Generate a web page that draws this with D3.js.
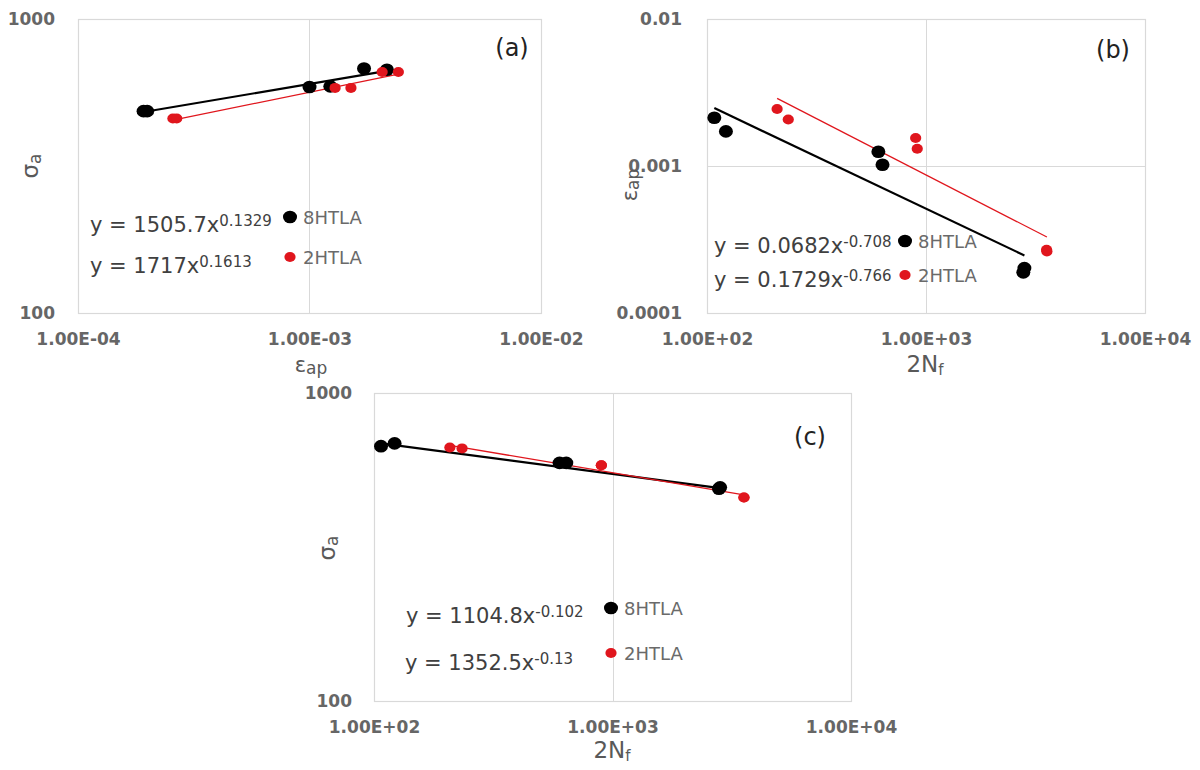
<!DOCTYPE html>
<html>
<head>
<meta charset="utf-8">
<script src="https://cdn.jsdelivr.net/npm/d3@7"></script>
<style>
  body { margin: 0; background: #fff; }
  svg { display: block; }
  text { font-family: "DejaVu Sans", "Liberation Sans", sans-serif; }
</style>
</head>
<body>
<svg id="chart" width="1200" height="770"></svg>
<script>
// ---- series -------------------------------------------------------------
const seriesNames  = ["8HTLA", "2HTLA"];
const seriesColors = ["#000000", "#e0161d"];

// (a) stress amplitude vs plastic strain amplitude
const epsA_8HTLA = [1.92e-4, 1.99e-4, 1.00e-3, 1.23e-3, 1.72e-3, 2.16e-3];
const sigA_8HTLA = [486, 486, 587, 590, 679, 672];
const epsA_2HTLA = [2.57e-4, 2.67e-4, 1.29e-3, 1.51e-3, 2.06e-3, 2.42e-3];
const sigA_2HTLA = [459, 459, 583, 583, 660, 660];
const fitA_coef  = [1505.7, 1717];
const fitA_exp   = [0.1329, 0.1613];

// (b) plastic strain amplitude vs reversals to failure
const NB_8HTLA   = [108, 122, 606, 633, 2814, 2782];
const epsB_8HTLA = [2.13e-3, 1.72e-3, 1.25e-3, 1.02e-3, 2.02e-4, 1.89e-4];
const NB_2HTLA   = [209, 235, 897, 912, 3553, 3565];
const epsB_2HTLA = [2.44e-3, 2.07e-3, 1.55e-3, 1.31e-3, 2.69e-4, 2.62e-4];
const fitB_coef  = [0.0682, 0.1729];
const fitB_exp   = [-0.708, -0.766];

// (c) stress amplitude vs reversals to failure
const NC_8HTLA   = [107, 122, 600, 640, 2795, 2826];
const sigC_8HTLA = [672, 686, 593, 593, 489, 494];
const NC_2HTLA   = [208, 234, 898, 898, 3558, 3558];
const sigC_2HTLA = [665, 661, 583, 583, 458, 458];
const fitC_coef  = [1104.8, 1352.5];
const fitC_exp   = [-0.102, -0.13];

// ---- axis ticks ---------------------------------------------------------
const strainTicks      = [1e-4, 1e-3, 1e-2];
const strainTickLabels = ["1.00E-04", "1.00E-03", "1.00E-02"];
const stressTicks      = [100, 1000];
const stressTickLabels = ["100", "1000"];
const revTicks         = [1e2, 1e3, 1e4];
const revTickLabels    = ["1.00E+02", "1.00E+03", "1.00E+04"];
const strainYTicks      = [1e-4, 1e-3, 1e-2];
const strainYTickLabels = ["0.0001", "0.001", "0.01"];

const svg = d3.select("#chart");
const GRID = "#d9d9d9";
const TICK_COLOR = "#666666";
const TITLE_COLOR = "#595959";

function drawPanel(p) {
  const g = svg.append("g");
  const x = d3.scaleLog().domain(p.xDomain).range([p.box.x0, p.box.x1]);
  const y = d3.scaleLog().domain(p.yDomain).range([p.box.y1, p.box.y0]);
  const h = p.box.y1 - p.box.y0, w = p.box.x1 - p.box.x0;

  // inner gridlines
  g.selectAll("line.vgrid").data(p.xGrid).join("line")
    .attr("x1", d => Math.round(x(d)) + 0.5).attr("x2", d => Math.round(x(d)) + 0.5)
    .attr("y1", p.box.y0).attr("y2", p.box.y1)
    .attr("stroke", GRID).attr("stroke-width", 1);
  g.selectAll("line.hgrid").data(p.yGrid).join("line")
    .attr("y1", d => Math.round(y(d)) + 0.5).attr("y2", d => Math.round(y(d)) + 0.5)
    .attr("x1", p.box.x0).attr("x2", p.box.x1)
    .attr("stroke", GRID).attr("stroke-width", 1);

  // plot frame
  g.append("rect")
    .attr("x", p.box.x0 + 0.5).attr("y", p.box.y0 + 0.5)
    .attr("width", w).attr("height", h)
    .attr("fill", "none").attr("stroke", GRID).attr("stroke-width", 1.2);

  // axes
  const ax = g.append("g").attr("transform", `translate(0,${p.box.y1})`)
    .call(d3.axisBottom(x).tickValues(p.xTicks)
      .tickFormat((d, i) => p.xTickLabels[i]).tickSize(0).tickPadding(20));
  const ay = g.append("g").attr("transform", `translate(${p.box.x0},0)`)
    .call(d3.axisLeft(y).tickValues(p.yTicks)
      .tickFormat((d, i) => p.yTickLabels[i]).tickSize(0).tickPadding(p.yPad));
  [ax, ay].forEach(a => {
    a.select(".domain").remove();
    a.selectAll("text")
      .attr("fill", TICK_COLOR).attr("font-size", 17).attr("font-weight", "bold")
      .style("font-family", "'DejaVu Sans', sans-serif");
  });

  // trend lines (power fits) over each series' data range
  const line = d3.line().x(d => x(d[0])).y(d => y(d[1]));
  p.series.forEach((s, i) => {
    const ext = d3.extent(s.xs);
    const pts = ext.map(v => [v, p.coef[i] * Math.pow(v, p.exp[i])]);
    g.append("path").attr("d", line(pts))
      .attr("fill", "none").attr("stroke", seriesColors[i])
      .attr("stroke-width", i === 0 ? 2.2 : 1.3);
  });

  // markers
  p.series.forEach((s, i) => {
    const rx = i === 0 ? 7 : 5.6, ry = i === 0 ? 6.3 : 5;
    g.selectAll(null).data(d3.zip(s.xs, s.ys)).join("ellipse")
      .attr("cx", d => x(d[0])).attr("cy", d => y(d[1]))
      .attr("rx", rx).attr("ry", ry)
      .attr("fill", seriesColors[i]);
  });

  // fit equations
  p.eqPos.forEach((pos, i) => {
    const t = g.append("text").attr("x", pos[0]).attr("y", pos[1])
      .attr("fill", "#404040").attr("font-size", 21);
    t.append("tspan").text(`y = ${p.coef[i]}x`);
    t.append("tspan").attr("font-size", 15).attr("dy", -6).text(String(p.exp[i]));
  });

  // legend
  p.legPos.forEach((pos, i) => {
    const rx = i === 0 ? 7 : 5.6, ry = i === 0 ? 6.3 : 5;
    g.append("ellipse").attr("cx", pos[0]).attr("cy", pos[1])
      .attr("rx", rx).attr("ry", ry).attr("fill", seriesColors[i]);
    g.append("text").attr("x", pos[0] + 13).attr("y", pos[1])
      .attr("dominant-baseline", "central")
      .attr("fill", "#6a6a6a").attr("font-size", 18)
      .text(seriesNames[i]);
  });

  // panel tag
  g.append("text").attr("x", p.tag[0]).attr("y", p.tag[1])
    .attr("text-anchor", "middle").attr("dominant-baseline", "central")
    .attr("fill", "#222").attr("font-size", 24).text(p.tag[2]);

  // axis titles
  const xt = g.append("text").attr("x", p.xTitlePos[0]).attr("y", p.xTitlePos[1])
    .attr("text-anchor", "middle").attr("fill", TITLE_COLOR);
  xt.append("tspan").attr("font-size", p.xTitle[2]).text(p.xTitle[0]);
  xt.append("tspan").attr("font-size", p.xTitle[3]).attr("dy", p.xTitle[4]).text(p.xTitle[1]);

  const yt = g.append("text")
    .attr("transform", `translate(${p.yTitlePos[0]},${p.yTitlePos[1]}) rotate(-90)`)
    .attr("text-anchor", "middle").attr("fill", TITLE_COLOR);
  yt.append("tspan").attr("font-size", p.yTitle[2]).text(p.yTitle[0]);
  yt.append("tspan").attr("font-size", p.yTitle[3]).attr("dy", p.yTitle[4]).text(p.yTitle[1]);
}

drawPanel({
  box: { x0: 78, x1: 541, y0: 19, y1: 313 },
  xDomain: [1e-4, 1e-2], yDomain: [100, 1000],
  xTicks: strainTicks, xTickLabels: strainTickLabels,
  yTicks: stressTicks, yTickLabels: stressTickLabels, yPad: 23,
  xGrid: [1e-3], yGrid: [],
  series: [{ xs: epsA_8HTLA, ys: sigA_8HTLA }, { xs: epsA_2HTLA, ys: sigA_2HTLA }],
  coef: fitA_coef, exp: fitA_exp,
  eqPos: [[90, 232], [90, 273]],
  legPos: [[290, 217], [290, 257]],
  tag: [512, 48, "(a)"],
  xTitle: ["ε", "ap", 21, 17, 2], xTitlePos: [311, 372],
  yTitle: ["σ", "a", 23, 17, 3], yTitlePos: [38, 166]
});

drawPanel({
  box: { x0: 707, x1: 1145, y0: 19, y1: 313 },
  xDomain: [1e2, 1e4], yDomain: [1e-4, 1e-2],
  xTicks: revTicks, xTickLabels: revTickLabels,
  yTicks: strainYTicks, yTickLabels: strainYTickLabels, yPad: 25,
  xGrid: [1e3], yGrid: [1e-3],
  series: [{ xs: NB_8HTLA, ys: epsB_8HTLA }, { xs: NB_2HTLA, ys: epsB_2HTLA }],
  coef: fitB_coef, exp: fitB_exp,
  eqPos: [[714, 253], [714, 287]],
  legPos: [[905, 241], [905, 275]],
  tag: [1113, 50, "(b)"],
  xTitle: ["2N", "f", 23, 15, 3], xTitlePos: [925, 372],
  yTitle: ["ε", "ap", 21, 17, 2], yTitlePos: [637, 185]
});

drawPanel({
  box: { x0: 374, x1: 851, y0: 393, y1: 701 },
  xDomain: [1e2, 1e4], yDomain: [100, 1000],
  xTicks: revTicks, xTickLabels: revTickLabels,
  yTicks: stressTicks, yTickLabels: stressTickLabels, yPad: 22,
  xGrid: [1e3], yGrid: [],
  series: [{ xs: NC_8HTLA, ys: sigC_8HTLA }, { xs: NC_2HTLA, ys: sigC_2HTLA }],
  coef: fitC_coef, exp: fitC_exp,
  eqPos: [[406, 623], [405, 670]],
  legPos: [[611, 608], [611, 653]],
  tag: [810, 437, "(c)"],
  xTitle: ["2N", "f", 23, 15, 3], xTitlePos: [612, 758],
  yTitle: ["σ", "a", 23, 17, 3], yTitlePos: [335, 548]
});
</script>
</body>
</html>
